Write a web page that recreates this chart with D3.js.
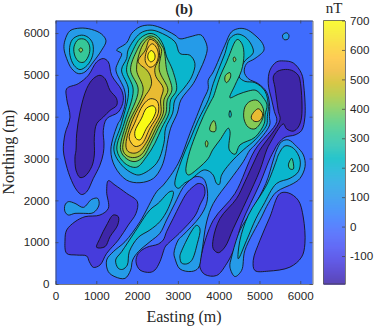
<!DOCTYPE html>
<html>
<head>
<meta charset="utf-8">
<script src="https://cdn.jsdelivr.net/npm/d3@7"></script>
<style>
  body { margin: 0; background: #fff; }
  text { fill: #262626; }
  .serif { font-family: 'Liberation Serif', serif; }
  .sans { font-family: 'Liberation Sans', sans-serif; }
</style>
</head>
<body>
<div id="chart"></div>
<script>
// parula colormap, every few steps
const parula = [
  [0.2422, 0.1504, 0.6603], [0.2647, 0.1978, 0.7952], [0.2783, 0.2559, 0.8991],
  [0.2810, 0.3228, 0.9579], [0.2699, 0.3892, 0.9906], [0.2206, 0.4603, 0.9973],
  [0.1786, 0.5289, 0.9682], [0.1540, 0.5902, 0.9218], [0.1253, 0.6459, 0.8883],
  [0.0689, 0.6948, 0.8394], [0.0067, 0.7312, 0.7660], [0.1408, 0.7584, 0.6842],
  [0.2161, 0.7843, 0.5923], [0.3406, 0.8008, 0.4789], [0.5044, 0.7993, 0.3480],
  [0.6720, 0.7793, 0.2227], [0.8203, 0.7498, 0.1535], [0.9393, 0.7288, 0.2100],
  [0.9970, 0.7659, 0.2199], [0.9786, 0.8386, 0.1766], [0.9597, 0.9135, 0.1423],
  [0.9769, 0.9839, 0.0805]
]

const xTicks = [0, 1000, 2000, 3000, 4000, 5000, 6000]
const yTicks = [0, 1000, 2000, 3000, 4000, 5000, 6000]
const barTicks = [-100, 0, 100, 200, 300, 400, 500, 600, 700]

// band value of the fill for each contour level (nT)
const bgValue = -5
const d1Value = -125
const d2Value = -195
const l1Value = 118
const l2Value = 210
const l3Value = 315
const l4Value = 405
const l5Value = 455
const l6Value = 520
const l7Value = 600
const l8Value = 700

// contours, [easting, northing] in metres
const d1Rings = [
  [[1172,5390],[1295,5310],[1376,4990],[1622,4630],[1662,4390],[1540,4110],[1254,3950],[1172,3670],[1189,3350],[1172,3123],[1090,2843],[927,2523],[764,2203],[641,2139],[519,2243],[355,2563],[233,2963],[192,3203],[233,3590],[355,3990],[274,4430],[274,4670],[559,4790],[805,4990],[1009,5310]],
  [[1295,2470],[1458,2366],[1744,2167],[2006,1968],[1973,1689],[1785,1410],[1540,1051],[1254,732],[1090,453],[927,398],[829,533],[764,669],[519,692],[274,732],[233,1051],[274,1290],[478,1489],[723,1609],[1090,1649],[1295,1808],[1254,2207]],
  [[3499,2403],[3622,2363],[3663,2163],[3541,1890],[3418,1627],[3034,1212],[2723,932],[2682,876],[2559,533],[2437,334],[2314,278],[2071,334],[1973,533],[2030,732],[2234,876],[2520,955],[2641,1052],[2723,1252],[2887,1571],[3050,1890],[3214,2169],[3377,2329]],
  [[5583,5334],[5828,5286],[6032,5030],[6089,4710],[6114,3990],[6032,3670],[5872,3565],[5627,3509],[5463,3366],[5365,3206],[5240,2963],[5011,2403],[4561,1443],[4398,883],[4194,483],[3949,203],[3663,227],[3540,403],[3581,723],[3867,1523],[4398,2163],[4888,3203],[5423,3884],[5365,4124],[5300,4403],[5215,4790],[5256,5110],[5419,5310]],
  [[5501,2163],[5705,2179],[5950,2003],[6073,1603],[6114,963],[6032,643],[5746,403],[5215,307],[4888,323],[4847,563],[5011,1043],[5256,1603]]
]
const d2Rings = [
  [[1090,4990],[1213,4910],[1336,4630],[1499,4430],[1499,4270],[1336,4150],[1172,3990],[1009,3830],[952,3510],[952,3083],[886,2803],[723,2579],[600,2547],[502,2723],[478,3043],[502,3190],[519,3590],[600,4110],[764,4670],[927,4910]],
  [[1417,1649],[1540,1609],[1524,1410],[1336,1131],[1213,892],[1009,876],[1090,1091],[1254,1410]],
  [[5583,5126],[5787,5110],[5950,4990],[6007,4790],[6032,3990],[5950,3750],[5828,3654],[5664,3710],[5586,3828],[5259,3366],[5177,3206],[5011,2723],[4684,2003],[4357,1323],[4153,883],[3990,747],[3867,843],[3867,1083],[4030,1563],[4439,2043],[4643,2443],[4888,2963],[5011,3203],[5504,3924],[5463,4124],[5422,4403],[5378,4710],[5338,4950],[5419,5070]]
]
const l1Rings = [
  [[233,5830],[355,6054],[600,6118],[886,6086],[1131,5974],[1238,5814],[1131,5590],[927,5310],[723,5070],[559,5030],[396,5150],[274,5390],[208,5630]],
  [[1499,5590],[1744,5766],[1866,5990],[2071,6150],[2316,6190],[2561,6134],[2929,5950],[3050,5862],[3295,5910],[3557,5958],[3663,5830],[3720,5630],[3663,5390],[3540,5110],[3377,4790],[3075,4403],[2985,4084],[2822,3725],[2740,3366],[2699,3126],[2600,2800],[2400,2525],[2071,2422],[1744,2483],[1458,2803],[1357,3207],[1537,3845],[1581,3910],[1715,4350],[1690,4642],[1480,5120],[1540,5310],[1622,5510]],
  [[4504,6110],[4684,6086],[4888,5950],[5076,5750],[5109,5590],[4888,5390],[4684,5270],[4627,5070],[4725,4910],[4970,4790],[5174,4590],[5251,4243],[5243,4004],[5251,3804],[4891,3326],[4766,3203],[4602,2923],[4276,2483],[3867,1923],[3704,1483],[3582,733],[3500,380],[3337,300],[3050,360],[2928,613],[2903,733],[3009,1052],[3132,1172],[3541,1611],[3705,1930],[3721,2249],[3622,2523],[3418,2563],[3173,2363],[3091,2249],[2928,1930],[2723,1531],[2559,1212],[2316,1011],[2030,772],[1891,573],[1842,334],[1703,134],[1458,174],[1295,294],[1254,573],[1417,772],[1703,1011],[2071,1489],[2479,2207],[2643,2366],[3010,2887],[3296,3605],[3460,4004],[3623,4403],[3744,4670],[3744,4870],[3867,5070],[4153,5710],[4316,6030]],
  [[5566,5950],[5664,6006],[5722,5950],[5697,5854],[5600,5846]],
  [[233,1888],[314,1968],[478,1928],[682,1832],[886,2023],[1033,2047],[1066,1888],[927,1705],[682,1689],[478,1689],[314,1649],[233,1729]],
  [[5422,3206],[5545,3405],[5709,3445],[5913,3286],[6077,3086],[6118,2807],[5991,2523],[5828,2403],[5419,2203],[5215,1923],[5052,1603],[4643,803],[4561,323],[4398,179],[4276,403],[4316,643],[4521,1283],[4766,1683],[5157,2403],[5338,2963]]
]
const l2Rings = [
  [[355,5710],[437,5870],[641,5950],[805,5894],[911,5750],[911,5470],[780,5230],[600,5126],[453,5230],[355,5470]],
  [[2316,6070],[2520,6030],[2929,5790],[3050,5510],[3295,5470],[3418,5270],[3336,4950],[3172,4710],[2928,4403],[2871,4084],[2699,3725],[2658,3366],[2478,2887],[2069,2610],[1900,2640],[1622,2844],[1431,3207],[1619,3845],[1790,4642],[1619,5120],[1744,5390],[1782,5600],[2071,5990]],
  [[4455,5974],[4643,5910],[4807,5710],[4847,5526],[4643,5334],[4521,5110],[4504,4950],[4643,4846],[4888,4814],[5133,4614],[5218,4243],[5193,4004],[5177,3804],[4891,3445],[4605,3206],[4276,2883],[4071,2603],[4014,2379],[3949,2403],[3867,2603],[3744,2707],[3622,2723],[3295,2483],[3172,2419],[3010,2288],[2928,2368],[3092,2967],[3296,3445],[3501,3924],[3746,4403],[3867,4790],[3990,5110],[4153,5510],[4276,5870]],
  [[1474,573],[1540,374],[1646,350],[1760,453],[1809,772],[2030,1115],[2314,1291],[2559,1491],[2764,1810],[2887,2209],[2805,2209],[2519,1930],[2314,1770],[1948,1250],[1622,772]],
  [[3458,1403],[3540,1323],[3475,963],[3336,560],[3213,480],[3091,500],[3050,643],[3067,733]],
  [[5463,3086],[5627,3302],[5832,3246],[5995,2967],[5954,2687],[5750,2528],[5419,2403],[5093,1883],[4913,1563],[4684,1043],[4480,603],[4521,1043],[4725,1643],[5174,2363],[5419,2963]]
]
const l3Rings = [
  [[453,5670],[559,5846],[723,5846],[829,5710],[829,5510],[706,5310],[584,5310],[478,5446]],
  [[2316,5990],[2496,5926],[2643,5710],[2725,5430],[2872,5110],[2968,4640],[2822,4403],[2781,4084],[2601,3725],[2437,3366],[2233,3046],[1987,2792],[1703,2884],[1505,3207],[1684,3845],[1905,4642],[1741,5120],[1905,5600],[2085,5880]],
  [[4504,5830],[4586,5710],[4619,5470],[4561,5110],[4398,4750],[4276,4454],[4480,4534],[4725,4614],[4913,4630],[5093,4454],[5185,4283],[5136,4044],[5120,3844],[4891,3509],[4523,3326],[4400,3102],[4261,3206],[4278,3645],[4237,3725],[4032,3445],[3852,3206],[3746,3006],[3500,2767],[3255,2607],[3198,2687],[3255,3046],[3419,3525],[3623,4004],[3828,4403],[3867,4470],[4030,4950],[4194,5310],[4276,5510],[4398,5790],[4455,5846]],
  [[5791,3006],[5832,2751],[5750,2751],[5709,2847]]
]
// small closed contour inside the ridge, drawn back in teal
const l3Hole = [[4278,4148],[4311,4044],[4278,3980],[4253,4044]]
const l4Rings = [
  [[576,5606],[625,5646],[666,5590],[617,5542]],
  [[2316,5930],[2470,5880],[2590,5720],[2658,5600],[2725,5120],[2854,4640],[2740,4403],[2707,4084],[2519,3725],[2339,3366],[2150,3040],[1950,2927],[1750,2990],[1595,3207],[1741,3845],[2028,4642],[1840,5120],[2003,5600],[2150,5830]],
  [[4169,4990],[4276,5054],[4292,4950],[4194,4814],[4153,4870]],
  [[4382,5430],[4423,5366],[4382,5310],[4357,5390]],
  [[3787,3669],[3803,3804],[3885,3908],[3934,3765],[3910,3645]],
  [[3672,3366],[3705,3429],[3738,3366],[3705,3270]],
  [[4643,4230],[4766,4366],[4945,4390],[5093,4190],[5076,3950],[4888,3710],[4725,3750],[4620,3950]]
]
const l5Rings = [
  [[2316,5890],[2450,5830],[2570,5660],[2600,5600],[2543,5120],[2756,4640],[2658,4403],[2642,4084],[2462,3725],[2282,3366],[2100,3090],[1930,3023],[1760,3060],[1652,3207],[1799,3845],[2150,4642],[1987,5120],[2085,5600],[2200,5800]]
]
const l6Rings = [
  [[2316,5850],[2460,5780],[2530,5650],[2543,5400],[2437,5160],[2461,4961],[2641,4681],[2576,4403],[2584,4084],[2396,3725],[2216,3366],[2050,3170],[1920,3127],[1780,3170],[1726,3300],[1856,3845],[2191,4483],[2298,4642],[2355,4801],[2314,5001],[2232,5120],[2028,5320],[2208,5600],[2273,5799]],
  [[4807,4030],[4970,4190],[5076,4070],[5011,3910],[4888,3886],[4807,3950]]
]
const l7Rings = [
  [[2380,5743],[2494,5615],[2519,5424],[2437,5240],[2314,5184],[2208,5304],[2208,5480],[2289,5679]],
  [[2330,4430],[2494,4370],[2519,4084],[2314,3725],[2110,3340],[1950,3290],[1840,3400],[1807,3526],[1940,3845],[2150,4284]]
]
const l8Rings = [
  [[2355,5583],[2437,5480],[2420,5360],[2330,5312],[2265,5400],[2281,5519]],
  [[2396,4260],[2461,4164],[2396,3965],[2232,3725],[2069,3446],[1970,3486],[1946,3645],[2110,3965],[2232,4204]]
]

const margin = { top: 20.5, left: 55.5, right: 61.5, bottom: 43 }
const width = 374 - margin.left - margin.right
const height = 327 - margin.top - margin.bottom

const frame = d3
  .select('#chart')
  .append('svg')
  .attr('width', 374)
  .attr('height', 327)

const svg = frame
  .append('g')
  .attr('transform', 'translate(' + margin.left + ',' + margin.top + ')')

const xPositionScale = d3.scaleLinear().domain([0, 6300]).range([0, width])
const yPositionScale = d3.scaleLinear().domain([0, 6300]).range([height, 0])

const colorScale = d3
  .scaleLinear()
  .domain(parula.map((d, i) => -195 + (895 * i) / (parula.length - 1)))
  .range(parula.map(d => d3.rgb(d[0] * 255, d[1] * 255, d[2] * 255)))
  .clamp(true)

const line = d3
  .line()
  .x(d => xPositionScale(d[0]))
  .y(d => yPositionScale(d[1]))
  .curve(d3.curveCatmullRomClosed.alpha(0.5))

svg
  .append('rect')
  .attr('width', width)
  .attr('height', height)
  .attr('fill', colorScale(bgValue))

const plot = svg.append('g')

const bands = [
  [d1Rings, d1Value],
  [d2Rings, d2Value],
  [l1Rings, l1Value],
  [l2Rings, l2Value],
  [l3Rings, l3Value],
  [[l3Hole], l2Value],
  [l4Rings, l4Value],
  [l5Rings, l5Value],
  [l6Rings, l6Value],
  [l7Rings, l7Value],
  [l8Rings, l8Value]
]

bands.forEach(([rings, value]) => {
  plot
    .selectAll(null)
    .data(rings)
    .enter()
    .append('path')
    .attr('d', line)
    .attr('fill', colorScale(value))
    .attr('stroke', '#111')
    .attr('stroke-width', 0.85)
})

// axes, ticks point inward like matlab
function styleAxis(g) {
  g.selectAll('.domain').attr('stroke', '#404040').attr('stroke-width', 0.7)
  g.selectAll('.tick line').attr('stroke', '#404040').attr('stroke-width', 0.7)
  g.selectAll('text').attr('class', 'sans').attr('font-size', 11.6).attr('fill', '#262626')
}

svg
  .append('g')
  .attr('transform', 'translate(0,' + height + ')')
  .call(d3.axisBottom(xPositionScale).tickValues(xTicks).tickFormat(d => String(d)).tickSizeInner(-3).tickSizeOuter(0).tickPadding(8))
  .call(styleAxis)
svg
  .append('g')
  .call(d3.axisLeft(yPositionScale).tickValues(yTicks).tickFormat(d => String(d)).tickSizeInner(-3).tickSizeOuter(0).tickPadding(6))
  .call(styleAxis)
svg
  .append('g')
  .call(d3.axisTop(xPositionScale).tickValues(xTicks).tickFormat('').tickSizeInner(-3).tickSizeOuter(0))
  .call(styleAxis)
svg
  .append('g')
  .attr('transform', 'translate(' + width + ',0)')
  .call(d3.axisRight(yPositionScale).tickValues(yTicks).tickFormat('').tickSizeInner(-3).tickSizeOuter(0))
  .call(styleAxis)

frame
  .append('text')
  .text('(b)')
  .attr('class', 'serif')
  .attr('x', 184)
  .attr('y', 14)
  .attr('text-anchor', 'middle')
  .attr('font-size', 14.5)
  .attr('font-weight', 'bold')
frame
  .append('text')
  .text('Easting (m)')
  .attr('class', 'serif')
  .attr('x', 184)
  .attr('y', 322)
  .attr('text-anchor', 'middle')
  .attr('font-size', 16)
frame
  .append('text')
  .text('Northing (m)')
  .attr('class', 'serif')
  .attr('transform', 'translate(14,152) rotate(-90)')
  .attr('text-anchor', 'middle')
  .attr('font-size', 16)

// colorbar
const barX = 323.5
const barWidth = 21.5
const barScale = d3.scaleLinear().domain([-195, 700]).range([height, 0])
const bar = frame
  .append('g')
  .attr('transform', 'translate(' + barX + ',' + margin.top + ')')

bar
  .selectAll('rect')
  .data(d3.range(0, Math.ceil(height)))
  .enter()
  .append('rect')
  .attr('y', d => d)
  .attr('width', barWidth)
  .attr('height', 1.2)
  .attr('fill', d => colorScale(barScale.invert(d + 0.5)))

bar
  .append('g')
  .attr('transform', 'translate(' + barWidth + ',0)')
  .call(d3.axisRight(barScale).tickValues(barTicks).tickFormat(d => String(d)).tickSizeInner(-3).tickSizeOuter(0).tickPadding(5))
  .call(styleAxis)
bar
  .append('path')
  .attr('d', `M0,0H${barWidth}M0,0V${height}H${barWidth}`)
  .attr('fill', 'none')
  .attr('stroke', '#404040')
  .attr('stroke-width', 0.7)

frame
  .append('text')
  .text('nT')
  .attr('class', 'serif')
  .attr('x', 334)
  .attr('y', 13)
  .attr('text-anchor', 'middle')
  .attr('font-size', 15)
</script>
</body>
</html>
